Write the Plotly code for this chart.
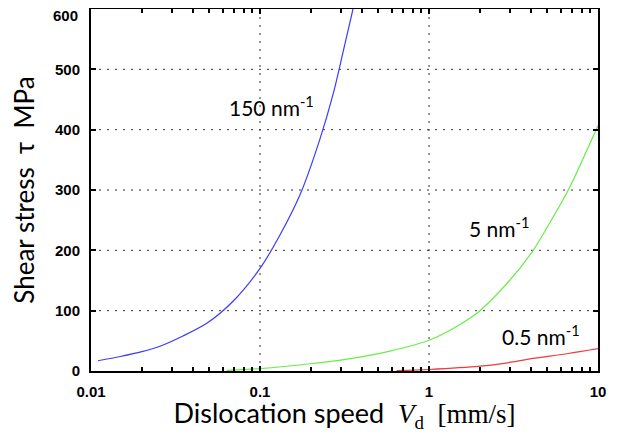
import numpy as np
import plotly.graph_objects as go

# Data
blue_x = [0.011, 0.0149, 0.02, 0.0256, 0.035, 0.0484, 0.0695, 0.1, 0.131, 0.173, 0.226, 0.272, 0.311, 0.355]
blue_y = [17, 24, 32, 41, 58, 79, 116, 170, 225, 293, 384, 461, 530, 600]

green_x = [0.0636, 0.1, 0.198, 0.341, 0.587, 1.0, 1.5, 2.0, 3.0, 4.14, 5.0, 6.67, 10]
green_y = [1, 4, 12, 20.5, 33, 51, 76, 100, 150, 200, 238, 300, 407]

red_x = [0.644, 1.0, 2.0, 2.96, 3.96, 6.67, 10]
red_y = [0.5, 2.5, 8, 14, 20, 29, 37]

labels = ["150 nm<sup>-1</sup>", "5 nm<sup>-1</sup>", "0.5 nm<sup>-1</sup>"]
label_x = [0.0638, 1.68, 2.63]
label_y = [440, 238, 59]

y_tickvals = [0, 100, 200, 300, 400, 500, 600]
y_ticktext = ["0", "100", "200", "300", "400", "500", ""]
y_top_label = "600"
x_gridvals = [0.1, 1]
y_gridvals = [100, 200, 300, 400, 500]

fig = go.Figure()

# dotted grid (drawn as guide lines so the axis ticks stay solid)
for gv in x_gridvals:
    fig.add_shape(type="line", xref="x", yref="paper", x0=gv, x1=gv, y0=0, y1=1,
                  line=dict(color="#333333", width=1, dash="2px,6px"), layer="below")
for gv in y_gridvals:
    fig.add_shape(type="line", xref="paper", yref="y", x0=0, x1=1, y0=gv, y1=gv,
                  line=dict(color="#333333", width=1, dash="2px,6px"), layer="below")

fig.add_trace(go.Scatter(x=blue_x, y=blue_y, mode="lines",
                         line=dict(color="#3c3cff", width=1.2, shape="spline", smoothing=0.8), showlegend=False))
fig.add_trace(go.Scatter(x=green_x, y=green_y, mode="lines",
                         line=dict(color="#66ee44", width=1.2, shape="spline", smoothing=0.8), showlegend=False))
fig.add_trace(go.Scatter(x=red_x, y=red_y, mode="lines",
                         line=dict(color="#ee3b3b", width=1.2, shape="spline", smoothing=0.8), showlegend=False))

for t, lx, ly in zip(labels, label_x, label_y):
    fig.add_annotation(x=np.log10(lx), y=ly, text=t, showarrow=False, xanchor="left", yanchor="middle",
                       font=dict(family="Lato", size=21, color="black"))

tickfont = dict(family="Liberation Sans", size=15, color="black", weight="bold")

# top y tick label sits slightly below the frame top in the reference
fig.add_annotation(xref="paper", x=0, y=y_tickvals[-1], text=y_top_label, showarrow=False,
                   xanchor="right", yanchor="middle", xshift=-11, yshift=-6, font=tickfont)

fig.update_xaxes(type="log", range=[-2, 1], dtick=1, automargin=False,
                 ticks="inside", ticklen=5, tickwidth=2, tickcolor="black", ticklabelstandoff=6,
                 minor=dict(ticks="inside", ticklen=4, tickwidth=2, tickcolor="black", showgrid=False),
                 showline=True, linecolor="black", linewidth=2, mirror="allticks",
                 showgrid=False, zeroline=False, tickfont=tickfont,
                 title=dict(text="Dislocation speed  <span style='font-family:Liberation Serif'><i>V</i><sub>d</sub>  [mm/s]</span>",
                            font=dict(family="Lato", size=27, color="black"), standoff=15))
fig.update_yaxes(range=[0, 600], tickvals=y_tickvals, ticktext=y_ticktext, automargin=False,
                 ticks="inside", ticklen=5, tickwidth=2, tickcolor="black", ticklabelstandoff=6,
                 showline=True, linecolor="black", linewidth=2, mirror="allticks",
                 showgrid=False, zeroline=False, tickfont=tickfont,
                 title=dict(text="Shear stress  τ  MPa", font=dict(family="Lato", size=26, color="black"), standoff=14))

# page has 8px body margin; size figure so the plot area lands where the reference has it
fig.update_layout(width=603, height=425, margin=dict(l=83, r=13, t=1, b=62),
                  plot_bgcolor="white", paper_bgcolor="white")

fig.write_html("out.html")
